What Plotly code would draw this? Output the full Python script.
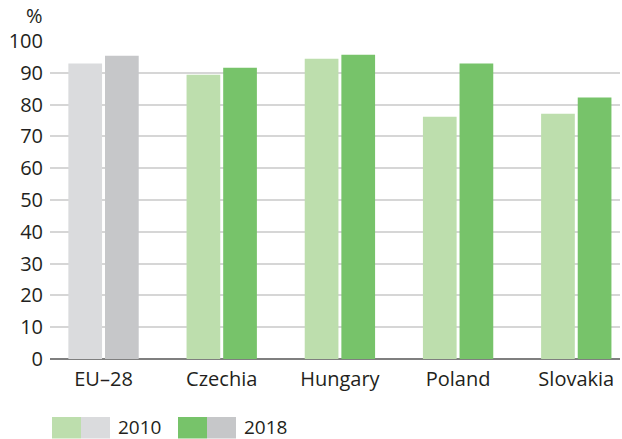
import plotly.graph_objects as go

categories = ["EU–28", "Czechia", "Hungary", "Poland", "Slovakia"]
values_2010 = [92.9, 89.4, 94.4, 76.2, 77.1]
values_2018 = [95.4, 91.6, 95.7, 92.9, 82.2]
y_ticks = list(range(0, 101, 10))

c2010 = ["#dadbdd"] + ["#bddead"] * 4
c2018 = ["#c6c7c9"] + ["#77c36a"] * 4

FONT = "Open Sans"
TXT = "#231f20"
FS = 20

fig = go.Figure()
fig.add_bar(x=categories, y=values_2010, name="2010", marker=dict(color=c2010, line=dict(width=0)))
fig.add_bar(x=categories, y=values_2018, name="2018", marker=dict(color=c2018, line=dict(width=0)))

# plot area geometry in pixels for legend placement
L, R, T, B = 50, 620, 41, 359
W, H = 622, 439

def px(x):
    return (x - L) / (R - L)

def py(y):
    return (B - y) / (B - T)

shapes = []
annotations = []
legend_items = [("2010", "#bddead", "#dadbdd", 52), ("2018", "#77c36a", "#c6c7c9", 178)]
for label, cg, cgr, x0 in legend_items:
    shapes.append(dict(type="rect", xref="paper", yref="paper", x0=px(x0), x1=px(x0 + 29),
                       y0=py(438.5), y1=py(417), fillcolor=cg, line=dict(width=0)))
    shapes.append(dict(type="rect", xref="paper", yref="paper", x0=px(x0 + 29), x1=px(x0 + 58),
                       y0=py(438.5), y1=py(417), fillcolor=cgr, line=dict(width=0)))
    annotations.append(dict(text=label, xref="paper", yref="paper", x=px(x0 + 64), y=py(426.5),
                            xanchor="left", yanchor="middle", showarrow=False,
                            font=dict(family=FONT, size=19, color=TXT)))

annotations.append(dict(text="%", xref="paper", yref="paper", x=px(45), y=py(15),
                        xanchor="right", yanchor="middle", showarrow=False,
                        font=dict(family=FONT, size=FS, color=TXT)))

fig.update_layout(
    width=W, height=H,
    margin=dict(l=L, r=W - R, t=T, b=H - B),
    paper_bgcolor="white", plot_bgcolor="white",
    barmode="group", bargap=0.38, bargroupgap=0.08,
    showlegend=False,
    font=dict(family=FONT, size=FS, color=TXT),
    shapes=shapes, annotations=annotations,
    xaxis=dict(range=[-0.453, 4.37], showgrid=False, showline=False, ticks="",
               ticklabelstandoff=6,
               tickfont=dict(family=FONT, size=FS, color=TXT), fixedrange=True),
    yaxis=dict(range=[0, 100], tickvals=y_ticks, showgrid=True, gridcolor="#d6d6d6", gridwidth=1.5,
               zeroline=True, zerolinecolor="#7f7f7f", zerolinewidth=1.5,
               showline=False, ticks="", ticklabelstandoff=6,
               tickfont=dict(family=FONT, size=FS, color=TXT), fixedrange=True),
)

fig.write_html("out.html", config={"displayModeBar": False},
               post_script="document.body.style.margin='0px';document.body.style.padding='0px';")
